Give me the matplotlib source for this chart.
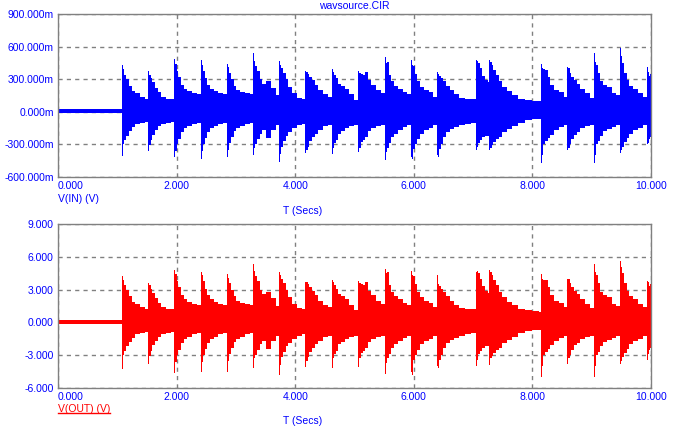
import matplotlib.pyplot as plt
from matplotlib.lines import Line2D

plt.rcParams['font.family'] = ['Liberation Sans', 'DejaVu Sans']

# envelope of the simulated waveforms (time in seconds)
t = [0.00, 0.20, 0.40, 0.60, 0.80, 1.00, 1.07,
     1.080, 1.095, 1.120, 1.150, 1.190, 1.240, 1.300, 1.380, 1.460,
     1.523, 1.538, 1.563, 1.593, 1.633, 1.683, 1.743, 1.823, 1.903,
     1.962, 1.977, 2.002, 2.032, 2.072, 2.122, 2.182, 2.262, 2.342,
     2.406, 2.421, 2.446, 2.476, 2.516, 2.566, 2.626, 2.706, 2.786,
     2.850, 2.865, 2.890, 2.920, 2.960, 3.010, 3.070, 3.150, 3.230,
     3.288, 3.303, 3.328, 3.358, 3.398, 3.448, 3.508, 3.588, 3.668,
     3.727, 3.742, 3.767, 3.797, 3.837, 3.887, 3.947, 4.027, 4.107,
     4.170, 4.185, 4.210, 4.240, 4.280, 4.330, 4.390, 4.470, 4.550,
     4.615, 4.630, 4.655, 4.685, 4.725, 4.775, 4.835, 4.915, 4.995,
     5.065, 5.080, 5.105, 5.135, 5.175, 5.225, 5.285, 5.365, 5.445,
     5.510, 5.525, 5.550, 5.580, 5.620, 5.670, 5.730, 5.810, 5.890,
     5.948, 5.963, 5.988, 6.018, 6.058, 6.108, 6.168, 6.248, 6.328,
     6.386, 6.401, 6.426, 6.456, 6.496, 6.546, 6.606, 6.686, 6.766, 6.866, 6.966,
     7.045, 7.060, 7.085, 7.115, 7.155, 7.205, 7.245,
     7.274, 7.289, 7.314, 7.344, 7.384, 7.434, 7.494, 7.574, 7.654, 7.754, 7.874, 7.994, 8.114,
     8.145, 8.160, 8.185, 8.215, 8.255, 8.305, 8.365, 8.445, 8.525,
     8.589, 8.604, 8.629, 8.659, 8.699, 8.749, 8.809, 8.889, 8.969,
     9.034, 9.049, 9.074, 9.104, 9.144, 9.194, 9.254, 9.334, 9.414,
     9.477, 9.492, 9.517, 9.547, 9.587, 9.637, 9.697, 9.777, 9.857,
     9.927, 9.942, 9.967, 9.990, 10.0]

vin_hi = [0.03, 0.03, 0.03, 0.03, 0.03, 0.03, 0.03,
          0.43, 0.39, 0.34, 0.30, 0.24, 0.19, 0.17, 0.14, 0.12,
          0.38, 0.34, 0.31, 0.27, 0.22, 0.18, 0.14, 0.12, 0.12,
          0.49, 0.44, 0.38, 0.32, 0.25, 0.21, 0.19, 0.17, 0.16,
          0.48, 0.43, 0.38, 0.31, 0.25, 0.21, 0.19, 0.17, 0.16,
          0.44, 0.41, 0.36, 0.30, 0.24, 0.20, 0.18, 0.17, 0.16,
          0.545, 0.47, 0.42, 0.38, 0.30, 0.26, 0.28, 0.22, 0.15,
          0.47, 0.43, 0.40, 0.36, 0.30, 0.23, 0.17, 0.13, 0.12,
          0.38, 0.37, 0.35, 0.32, 0.29, 0.25, 0.20, 0.16, 0.14,
          0.39, 0.37, 0.34, 0.31, 0.26, 0.24, 0.21, 0.16, 0.11,
          0.38, 0.36, 0.35, 0.34, 0.37, 0.29, 0.25, 0.20, 0.17,
          0.50, 0.45, 0.46, 0.34, 0.28, 0.24, 0.21, 0.18, 0.16,
          0.48, 0.43, 0.42, 0.35, 0.28, 0.23, 0.20, 0.18, 0.14,
          0.37, 0.35, 0.33, 0.31, 0.28, 0.24, 0.20, 0.16, 0.13, 0.12, 0.12,
          0.48, 0.47, 0.45, 0.40, 0.33, 0.29, 0.27,
          0.48, 0.46, 0.43, 0.385, 0.34, 0.28, 0.23, 0.19, 0.155, 0.12, 0.11, 0.10, 0.095,
          0.44, 0.40, 0.39, 0.385, 0.32, 0.25, 0.20, 0.18, 0.14,
          0.41, 0.40, 0.36, 0.32, 0.29, 0.26, 0.21, 0.17, 0.13,
          0.545, 0.46, 0.43, 0.36, 0.28, 0.25, 0.23, 0.17, 0.15,
          0.59, 0.51, 0.45, 0.36, 0.29, 0.24, 0.21, 0.17, 0.14,
          0.41, 0.37, 0.33, 0.35, 0.30]

vin_lo = [-0.015, -0.015, -0.015, -0.015, -0.015, -0.015, -0.015,
          -0.41, -0.30, -0.26, -0.22, -0.18, -0.14, -0.11, -0.10, -0.09,
          -0.36, -0.31, -0.26, -0.21, -0.17, -0.13, -0.11, -0.10, -0.09,
          -0.42, -0.36, -0.30, -0.25, -0.19, -0.15, -0.13, -0.11, -0.10,
          -0.43, -0.36, -0.30, -0.24, -0.19, -0.15, -0.13, -0.11, -0.10,
          -0.42, -0.35, -0.29, -0.23, -0.18, -0.15, -0.13, -0.11, -0.10,
          -0.40, -0.33, -0.30, -0.25, -0.20, -0.17, -0.24, -0.17, -0.12,
          -0.46, -0.39, -0.32, -0.27, -0.22, -0.185, -0.15, -0.12, -0.11,
          -0.38, -0.35, -0.32, -0.27, -0.23, -0.20, -0.17, -0.13, -0.12,
          -0.39, -0.33, -0.29, -0.26, -0.20, -0.18, -0.15, -0.13, -0.12,
          -0.37, -0.33, -0.28, -0.26, -0.23, -0.18, -0.15, -0.13, -0.12,
          -0.44, -0.37, -0.33, -0.29, -0.23, -0.20, -0.17, -0.14, -0.12,
          -0.42, -0.43, -0.34, -0.30, -0.25, -0.20, -0.17, -0.15, -0.12,
          -0.40, -0.42, -0.34, -0.30, -0.23, -0.19, -0.16, -0.14, -0.12, -0.11, -0.10,
          -0.35, -0.32, -0.29, -0.26, -0.23, -0.22, -0.22,
          -0.35, -0.33, -0.31, -0.28, -0.25, -0.23, -0.19, -0.16, -0.13, -0.10, -0.08, -0.07, -0.07,
          -0.47, -0.40, -0.30, -0.27, -0.24, -0.21, -0.17, -0.14, -0.12,
          -0.35, -0.33, -0.30, -0.25, -0.21, -0.19, -0.15, -0.13, -0.12,
          -0.47, -0.40, -0.30, -0.27, -0.22, -0.18, -0.16, -0.14, -0.12,
          -0.38, -0.35, -0.32, -0.28, -0.24, -0.20, -0.17, -0.15, -0.12,
          -0.30, -0.29, -0.25, -0.23, -0.31]

vout_hi = [0.2, 0.2, 0.2, 0.2, 0.2, 0.2, 0.2,
           4.2, 3.9, 3.4, 3.0, 2.4, 1.9, 1.7, 1.4, 1.2,
           3.6, 3.4, 3.1, 2.7, 2.2, 1.8, 1.4, 1.2, 1.2,
           4.8, 4.4, 3.8, 3.2, 2.5, 2.1, 1.9, 1.7, 1.6,
           4.6, 4.3, 3.8, 3.1, 2.5, 2.1, 1.9, 1.7, 1.6,
           4.4, 4.1, 3.6, 3.0, 2.4, 2.0, 1.8, 1.7, 1.6,
           5.3, 4.7, 4.2, 3.8, 3.0, 2.6, 2.8, 2.2, 1.5,
           4.6, 4.3, 4.0, 3.6, 3.0, 2.3, 1.7, 1.3, 1.2,
           3.7, 3.7, 3.5, 3.2, 2.9, 2.5, 2.0, 1.6, 1.4,
           3.9, 3.7, 3.4, 3.1, 2.6, 2.4, 2.1, 1.6, 1.1,
           3.8, 3.6, 3.5, 3.4, 3.7, 2.9, 2.5, 2.0, 1.7,
           4.9, 4.5, 4.6, 3.4, 2.8, 2.4, 2.1, 1.8, 1.6,
           4.7, 4.3, 4.2, 3.5, 2.8, 2.3, 2.0, 1.8, 1.4,
           4.3, 3.5, 3.3, 3.1, 2.8, 2.4, 2.0, 1.6, 1.3, 1.2, 1.2,
           4.6, 4.7, 4.5, 4.0, 3.3, 2.9, 2.7,
           4.8, 4.6, 4.3, 3.85, 3.4, 2.8, 2.3, 1.9, 1.55, 1.2, 1.1, 1.0, 0.95,
           4.4, 4.0, 3.9, 3.85, 3.2, 2.5, 2.0, 1.8, 1.4,
           4.0, 4.0, 3.6, 3.2, 2.9, 2.6, 2.1, 1.7, 1.3,
           5.3, 4.6, 4.3, 3.6, 2.8, 2.5, 2.3, 1.7, 1.5,
           5.6, 5.1, 4.5, 3.6, 2.9, 2.4, 2.1, 1.7, 1.4,
           3.8, 3.7, 3.3, 3.5, 3.0]

vout_lo = [-0.15, -0.15, -0.15, -0.15, -0.15, -0.15, -0.15,
           -4.3, -3.0, -2.6, -2.2, -1.8, -1.4, -1.1, -1.0, -0.9,
           -3.8, -3.1, -2.6, -2.1, -1.7, -1.3, -1.1, -1.0, -0.9,
           -4.6, -3.6, -3.0, -2.5, -1.9, -1.5, -1.3, -1.1, -1.0,
           -4.5, -3.6, -3.0, -2.4, -1.9, -1.5, -1.3, -1.1, -1.0,
           -4.5, -3.5, -2.9, -2.3, -1.8, -1.5, -1.3, -1.1, -1.0,
           -4.2, -3.3, -3.0, -2.5, -2.0, -1.7, -2.4, -1.7, -1.2,
           -4.8, -3.9, -3.2, -2.7, -2.2, -1.85, -1.5, -1.2, -1.1,
           -4.1, -3.5, -3.2, -2.7, -2.3, -2.0, -1.7, -1.3, -1.2,
           -4.2, -3.3, -2.9, -2.6, -2.0, -1.8, -1.5, -1.3, -1.2,
           -4.1, -3.3, -2.8, -2.6, -2.3, -1.8, -1.5, -1.3, -1.2,
           -4.7, -3.7, -3.3, -2.9, -2.3, -2.0, -1.7, -1.4, -1.2,
           -4.5, -4.8, -3.4, -3.0, -2.5, -2.0, -1.7, -1.5, -1.2,
           -4.0, -4.2, -3.4, -3.0, -2.3, -1.9, -1.6, -1.4, -1.2, -1.1, -1.0,
           -4.0, -3.4, -2.9, -2.6, -2.3, -2.2, -2.2,
           -3.9, -3.3, -3.1, -2.8, -2.5, -2.3, -1.9, -1.6, -1.3, -1.0, -0.8, -0.7, -0.7,
           -5.0, -4.0, -3.0, -2.7, -2.4, -2.1, -1.7, -1.4, -1.2,
           -3.8, -3.3, -3.0, -2.5, -2.1, -1.9, -1.5, -1.3, -1.2,
           -5.0, -4.0, -3.0, -2.7, -2.2, -1.8, -1.6, -1.4, -1.2,
           -3.8, -3.5, -3.2, -2.8, -2.4, -2.0, -1.7, -1.5, -1.2,
           -3.4, -2.9, -2.5, -2.3, -3.1]

x_ticks = [0, 2, 4, 6, 8, 10]
x_labels = ['0.000', '2.000', '4.000', '6.000', '8.000', '10.000']
in_ticks = [-0.6, -0.3, 0.0, 0.3, 0.6, 0.9]
in_labels = ['-600.000m', '-300.000m', '0.000m', '300.000m', '600.000m', '900.000m']
out_ticks = [-6, -3, 0, 3, 6, 9]
out_labels = ['-6.000', '-3.000', '0.000', '3.000', '6.000', '9.000']

W, H = 677, 430
fig = plt.figure(figsize=(W / 100, H / 100), dpi=100)
ax1 = fig.add_axes([58 / W, 1 - 177 / H, 593 / W, 163 / H])
ax2 = fig.add_axes([58 / W, 1 - 388 / H, 593 / W, 164 / H])


def style_axes(ax, yticks, ylabels):
    ax.set_xlim(0, 10)
    ax.set_ylim(yticks[0], yticks[-1])
    ax.set_xticks(x_ticks)
    ax.set_xticklabels(x_labels)
    ax.set_yticks(yticks)
    ax.set_yticklabels(ylabels)
    ax.tick_params(length=0, labelcolor='#0000FF', labelsize=7.5, pad=3)
    ax.get_xticklabels()[0].set_ha('left')
    ax.grid(True, color='#808080', linestyle=(0, (3, 3)), linewidth=1)
    ax.set_axisbelow(True)
    for sp in ax.spines.values():
        sp.set_color('#808080')
        sp.set_linewidth(1)
        sp.set_zorder(5)


ax1.fill_between(t, vin_lo, vin_hi, step='post', color='#0000FF', linewidth=0, zorder=2)
style_axes(ax1, in_ticks, in_labels)

ax2.fill_between(t, vout_lo, vout_hi, step='post', color='#FF0000', linewidth=0, zorder=2)
style_axes(ax2, out_ticks, out_labels)

fig.text(354 / W, 1 - 6 / H, 'wavsource.CIR', ha='center', va='center', color='#0000FF', fontsize=7.5)
fig.text(58 / W, 1 - 198.5 / H, 'V(IN) (V)', ha='left', va='center', color='#0000FF', fontsize=7.5)
fig.text(303 / W, 1 - 211 / H, 'T (Secs)', ha='center', va='center', color='#0000FF', fontsize=7.5)
out_lbl = fig.text(58 / W, 1 - 408.5 / H, 'V(OUT) (V)', ha='left', va='center', color='#FF0000', fontsize=7.5)
fig.text(303 / W, 1 - 421.5 / H, 'T (Secs)', ha='center', va='center', color='#0000FF', fontsize=7.5)

# underline the output trace label
bb = out_lbl.get_window_extent(renderer=fig.canvas.get_renderer())
fig.add_artist(Line2D([bb.x0 / W, bb.x1 / W], [1 - 413 / H, 1 - 413 / H], color='#FF0000', linewidth=1))

fig.savefig('out.png', dpi=100)
